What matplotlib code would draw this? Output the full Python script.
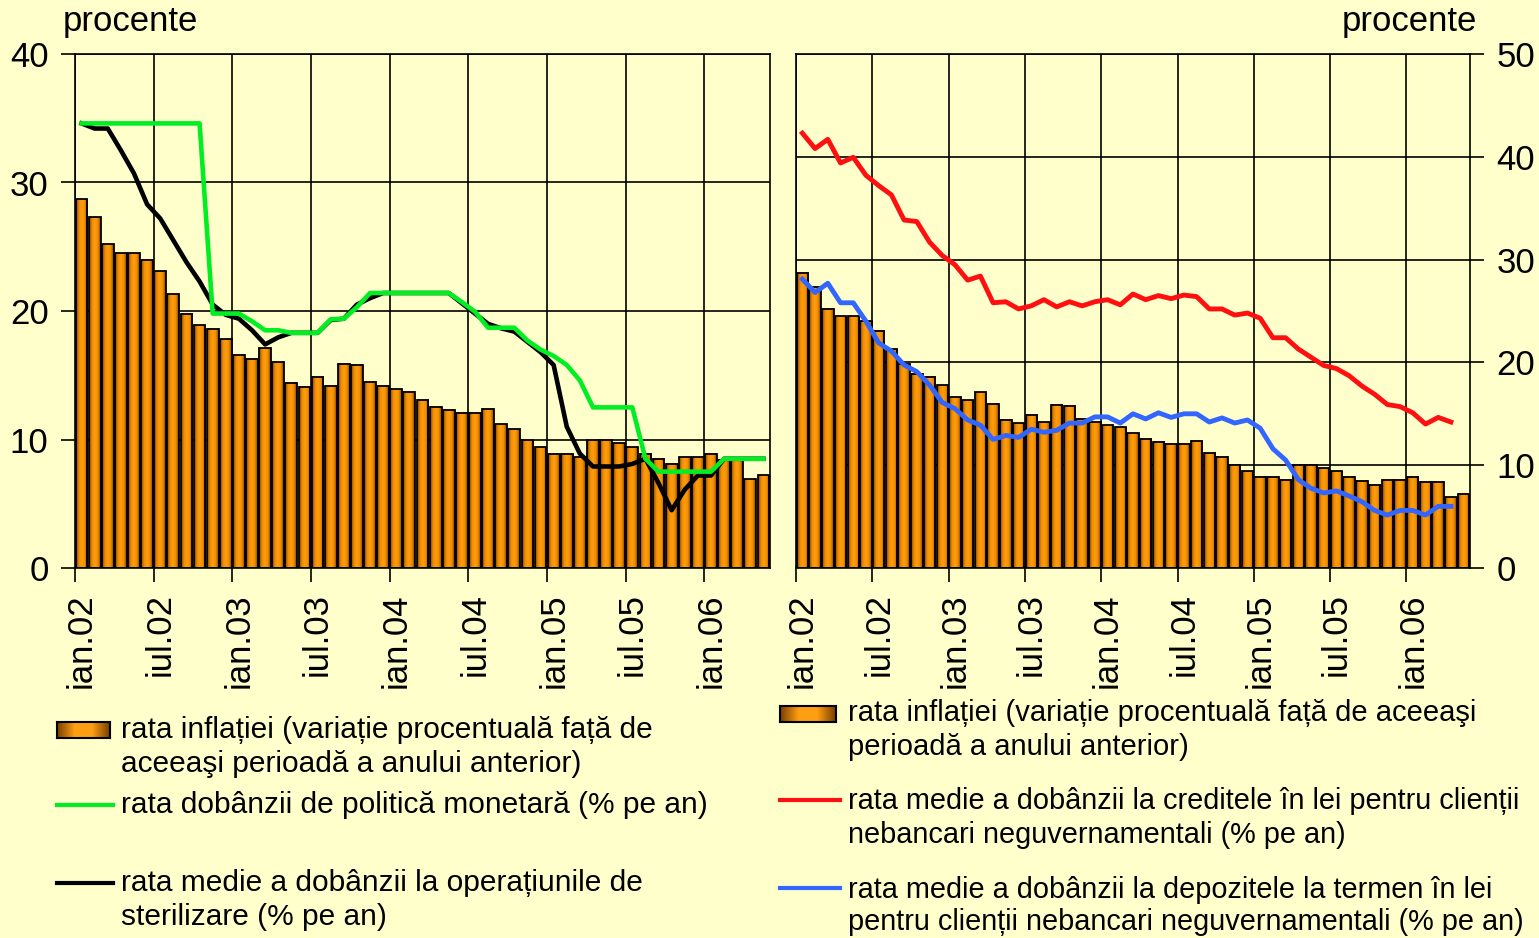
import numpy as np
import matplotlib
matplotlib.use("Agg")
import matplotlib.pyplot as plt
from matplotlib.colors import LinearSegmentedColormap
from matplotlib.lines import Line2D

plt.rcParams['font.family'] = ['Liberation Sans', 'DejaVu Sans']

# monthly data, ian.02 .. mai.06
inflatie = [28.7, 27.3, 25.2, 24.5, 24.5, 24.0, 23.1, 21.3, 19.8, 18.9,
            18.6, 17.8, 16.6, 16.3, 17.1, 16.0, 14.4, 14.1, 14.9, 14.2,
            15.9, 15.8, 14.5, 14.2, 13.9, 13.7, 13.1, 12.55, 12.3, 12.1,
            12.1, 12.4, 11.2, 10.8, 10.0, 9.4, 8.9, 8.9, 8.6, 10.0,
            10.0, 9.7, 9.4, 8.9, 8.5, 8.1, 8.6, 8.6, 8.9, 8.4,
            8.4, 6.9, 7.2]

politica = [34.6, 34.6, 34.6, 34.6, 34.6, 34.6, 34.6, 34.6, 34.6, 34.6,
            19.8, 19.8, 19.8, 19.2, 18.5, 18.5, 18.3, 18.3, 18.3, 19.35,
            19.4, 20.3, 21.4, 21.4, 21.4, 21.4, 21.4, 21.4, 21.4, 20.7,
            19.95, 18.7, 18.7, 18.7, 17.7, 17.0, 16.5, 15.8, 14.6, 12.5,
            12.5, 12.5, 12.5, 8.5, 7.5, 7.5, 7.5, 7.5, 7.5, 8.5,
            8.5, 8.5, 8.5]

sterilizare = [34.6, 34.2, 34.2, 32.5, 30.7, 28.3, 27.2, 25.5, 23.8, 22.3,
               20.5, 19.7, 19.4, 18.5, 17.4, 17.95, 18.3, 18.3, 18.3, 19.3,
               19.4, 20.5, 21.0, 21.4, 21.4, 21.4, 21.4, 21.4, 21.4, 20.6,
               19.8, 19.0, 18.65, 18.4, 17.6, 16.8, 15.8, 11.0, 8.9, 7.9,
               7.9, 7.9, 8.1, 8.5, 6.6, 4.5, 6.1, 7.2, 7.2, 8.5,
               8.5, 8.5, 8.5]

credite = [42.3, 40.8, 41.7, 39.4, 39.95, 38.2, 37.2, 36.3, 33.85, 33.7,
           31.7, 30.4, 29.5, 28.0, 28.4, 25.8, 25.9, 25.2, 25.5, 26.1,
           25.4, 25.9, 25.5, 25.9, 26.1, 25.6, 26.65, 26.1, 26.5, 26.2,
           26.55, 26.4, 25.2, 25.2, 24.6, 24.8, 24.3, 22.4, 22.4, 21.3,
           20.5, 19.7, 19.4, 18.7, 17.7, 16.9, 15.9, 15.7, 15.1, 14.0,
           14.65, 14.2]

depozite = [28.1, 26.8, 27.7, 25.8, 25.8, 24.0, 21.9, 21.1, 19.75, 19.1,
            17.8, 16.1, 15.5, 14.4, 13.9, 12.5, 12.9, 12.7, 13.5, 13.2,
            13.4, 14.1, 14.1, 14.7, 14.7, 14.1, 15.0, 14.5, 15.1, 14.65,
            15.0, 15.0, 14.2, 14.6, 14.1, 14.4, 13.6, 11.6, 10.5, 8.6,
            7.75, 7.3, 7.5, 7.0, 6.45, 5.6, 5.15, 5.6, 5.6, 5.15,
            6.0, 6.0]

etichete = ['ian.02', 'iul.02', 'ian.03', 'iul.03', 'ian.04',
            'iul.04', 'ian.05', 'iul.05', 'ian.06']

bg = '#FFFFCC'
W, H = 1539, 938
FS = 25
FS_LEG = 21.5

grad_cmap = LinearSegmentedColormap.from_list(
    'bar', [(0, '#7A4000'), (0.25, '#F08C00'), (0.5, '#FF9E12'),
            (0.75, '#F08C00'), (1, '#7A4000')])
grad = np.linspace(0, 1, 64).reshape(1, -1)


def fx(px):
    return px / W


def fy(py):
    return 1 - py / H


def draw_bars(ax, vals, ymax):
    x = np.arange(len(vals))
    bars = ax.bar(x, vals, width=0.9, color='none', edgecolor='black',
                  linewidth=1.3, zorder=3)
    for b in bars:
        ax.imshow(grad, cmap=grad_cmap, aspect='auto', zorder=2.5,
                  extent=[b.get_x(), b.get_x() + b.get_width(), 0, b.get_height()])
    ax.set_xlim(-0.5, len(vals) - 0.5)
    ax.set_ylim(0, ymax)


def style_axes(ax, ymax, side):
    ax.set_facecolor(bg)
    ax.set_yticks(np.arange(0, ymax + 1, 10))
    ax.set_xticks(np.arange(0, 53, 6))
    ax.set_xticklabels(etichete, rotation=90, fontsize=FS)
    ax.set_xticks(np.arange(-0.5, 53, 6), minor=True)
    ax.tick_params(axis='x', which='major', length=0, pad=18)
    ax.tick_params(axis='x', which='minor', length=10, width=1.2, color='black')
    ax.tick_params(axis='y', labelsize=FS, length=10, width=1.2, pad=9)
    if side == 'right':
        ax.yaxis.tick_right()
    ax.grid(True, axis='y', which='major', color='black', lw=1.2)
    ax.grid(True, axis='x', which='minor', color='black', lw=1.2)
    ax.set_axisbelow(True)
    for s in ax.spines.values():
        s.set_color('black')
        s.set_linewidth(1.2)


fig = plt.figure(figsize=(W / 100, H / 100), dpi=100, facecolor=bg)

# left panel
ax1 = fig.add_axes([fx(75), fy(568), fx(695), 514 / H])
draw_bars(ax1, inflatie, 40)
ax1.plot(np.arange(len(sterilizare)), sterilizare, color='black', lw=3.3, zorder=4)
ax1.plot(np.arange(len(politica)), politica, color='#00EE22', lw=3.3, zorder=5)
style_axes(ax1, 40, 'left')

# right panel
ax2 = fig.add_axes([fx(796), fy(568), fx(674), 514 / H])
draw_bars(ax2, inflatie, 50)
ax2.plot(np.arange(len(credite)), credite, color='#FF1010', lw=3.5, zorder=4)
ax2.plot(np.arange(len(depozite)), depozite, color='#3366FF', lw=3.5, zorder=4)
style_axes(ax2, 50, 'right')

fig.text(fx(63), fy(22), 'procente', fontsize=FS, va='center', ha='left')
fig.text(fx(1477), fy(22), 'procente', fontsize=FS, va='center', ha='right')


# legends drawn by hand
def legend_patch(x0, x1, yc):
    lax = fig.add_axes([fx(x0), fy(yc + 8), fx(x1 - x0), 16 / H])
    lax.imshow(grad, cmap=LinearSegmentedColormap.from_list(
        'leg', ['#7A4000', '#FF9E12', '#FF9E12', '#7A4000']), aspect='auto')
    lax.set_xticks([])
    lax.set_yticks([])
    for s in lax.spines.values():
        s.set_linewidth(1.5)


def legend_line(x0, x1, yc, color):
    fig.add_artist(Line2D([fx(x0), fx(x1)], [fy(yc), fy(yc)], color=color,
                          lw=3, transform=fig.transFigure))


def legend_text(x, ys, lines, size=FS_LEG):
    for y, t in zip(ys, lines):
        fig.text(fx(x), fy(y), t, fontsize=size, va='center', ha='left')


legend_patch(57, 110, 730)
legend_text(121, [730, 764], ['rata inflației (variație procentuală față de',
                              'aceeaşi perioadă a anului anterior)'])
legend_line(57, 113, 805, '#00EE22')
legend_text(121, [805], ['rata dobânzii de politică monetară (% pe an)'])
legend_line(57, 113, 883, 'black')
legend_text(121, [883, 917], ['rata medie a dobânzii la operațiunile de',
                              'sterilizare (% pe an)'])

legend_patch(780, 836, 714)
legend_text(848, [713, 747], ['rata inflației (variație procentuală față de aceeaşi',
                              'perioadă a anului anterior)'], 21)
legend_line(780, 840, 800, '#FF1010')
legend_text(848, [801, 835], ['rata medie a dobânzii la creditele în lei pentru clienții',
                              'nebancari neguvernamentali (% pe an)'], 20.8)
legend_line(780, 840, 888, '#3366FF')
legend_text(848, [890, 922], ['rata medie a dobânzii la depozitele la termen în lei',
                              'pentru clienții nebancari neguvernamentali (% pe an)'], 20.8)

fig.savefig('out.png', dpi=100, facecolor=bg)
